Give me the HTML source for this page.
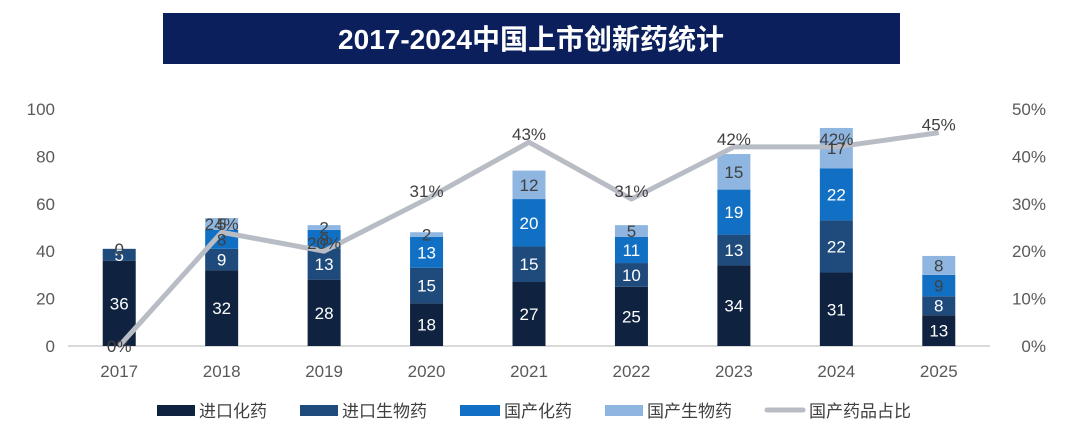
<!DOCTYPE html>
<html><head><meta charset="utf-8"><style>
html,body{margin:0;padding:0;background:#fff;width:1068px;height:444px;overflow:hidden}
svg text{font-family:"Liberation Sans","Noto Sans CJK SC",sans-serif}
</style></head><body>
<svg id="chart" width="1068" height="444" xmlns="http://www.w3.org/2000/svg">
<rect x="163" y="13" width="737" height="51" fill="#0a1f5c"/>
<text x="531" y="49" text-anchor="middle" font-size="28" font-weight="bold" fill="#fff">2017-2024中国上市创新药统计</text>
<g id="axes"></g><g id="bars"></g><g id="line"></g><g id="labels"></g>
<g id="legend">
<rect x="157" y="405" width="38" height="11" fill="#0f2340"/>
<text x="199" y="417" font-size="17" fill="#404040">进口化药</text>
<rect x="300" y="405" width="38" height="11" fill="#1f4a7c"/>
<text x="342" y="417" font-size="17" fill="#404040">进口生物药</text>
<rect x="460" y="405" width="40" height="11" fill="#1170c4"/>
<text x="504" y="417" font-size="17" fill="#404040">国产化药</text>
<rect x="605" y="405" width="38" height="11" fill="#8fb6e0"/>
<text x="647" y="417" font-size="17" fill="#404040">国产生物药</text>
<line x1="767" y1="410" x2="803" y2="410" stroke="#b8bcc4" stroke-width="5" stroke-linecap="round"/>
<text x="809" y="417" font-size="17" fill="#404040">国产药品占比</text>
</g>
</svg>
<script>
const years=["2017","2018","2019","2020","2021","2022","2023","2024","2025"];
const importChem=[36,32,28,18,27,25,34,31,13];
const importBio=[5,9,13,15,15,10,13,22,8];
const domChem=[0,8,8,13,20,11,19,22,9];
const domBio=[0,5,2,2,12,5,15,17,8];
const ratio=[0,24,20,31,43,31,42,42,45];
const leftTicks=[0,20,40,60,80,100];
const rightTicks=["0%","10%","20%","30%","40%","50%"];
const NS="http://www.w3.org/2000/svg";
const y0=346,y1=109,x0=68,x1=990;
const yL=v=>y0-(v/100)*(y0-y1);
const yR=v=>y0-(v/50)*(y0-y1);
const step=(x1-x0)/years.length;
const xC=i=>x0+step*(i+0.5);
function mk(t,a,p,txt){const e=document.createElementNS(NS,t);for(const k in a)e.setAttribute(k,a[k]);if(txt!==undefined)e.textContent=txt;p.appendChild(e);return e;}
const ax=document.getElementById('axes'),bars=document.getElementById('bars'),ln=document.getElementById('line'),lb=document.getElementById('labels');
const base=mk('line',{x1:x0,y1:y0,x2:x1,y2:y0,stroke:'#d9d9d9','stroke-width':2},ax);


leftTicks.forEach((t,i)=>{
 const e=mk('text',{x:55,y:yL(t)+6,'text-anchor':'end','font-size':17,fill:'#595959'},ax,t);
 
 
 const r=mk('text',{x:1046,y:yR(i*10)+6,'text-anchor':'end','font-size':17,fill:'#595959'},ax,rightTicks[i]);
 
 
});
const series=[[importChem,'#0f2340'],[importBio,'#1f4a7c'],[domChem,'#1170c4'],[domBio,'#8fb6e0']];
const sNames=['import-chem','import-bio','domestic-chem','domestic-bio'];
const bw=33;
years.forEach((y,i)=>{
 const xl=mk('text',{x:xC(i),y:377,'text-anchor':'middle','font-size':17,fill:'#595959'},ax,y);
 
 
 let cum=0;
 series.forEach(([arr,c],s)=>{
  const v=arr[i];
  const top=yL(cum+v),bot=yL(cum);
  if(v>0){
   const r=mk('rect',{x:xC(i)-bw/2,y:top,width:bw,height:bot-top,fill:c},bars);
   
   
  }
  if(v>0||(i===0&&s===2)){
   const t=mk('text',{x:xC(i),y:(top+bot)/2+6,'text-anchor':'middle','font-size':17,fill:s===3?'#404040':(s===2&&v<10?'#404040':'#fff')},lb,v);
   
   
  }
  cum+=v;
 });
});
const pts=ratio.map((r,i)=>xC(i)+','+yR(r)).join(' ');
const pl=mk('polyline',{points:pts,fill:'none',stroke:'#b8bcc4','stroke-width':5,'stroke-linejoin':'round'},ln);


ratio.forEach((r,i)=>{
 const t=mk('text',{x:xC(i),y:yR(r)-2+(i===0?8:0),'text-anchor':'middle','font-size':17,fill:'#404040'},lb,r+'%');
 
 
});
</script>
</body></html>
